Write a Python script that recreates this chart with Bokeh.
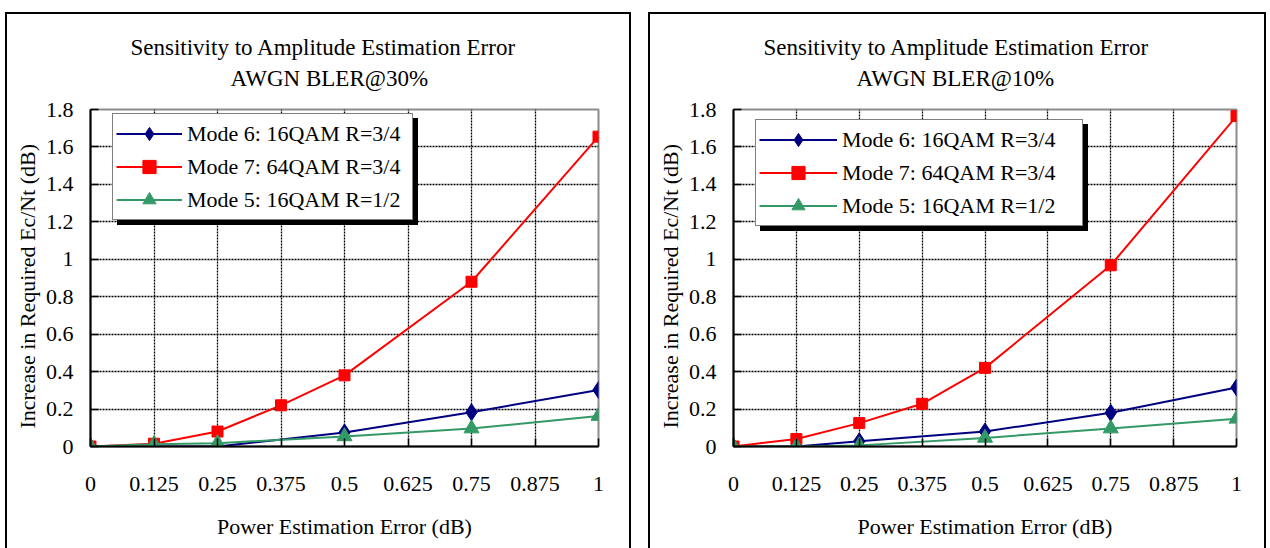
from bokeh.plotting import figure
from bokeh.layouts import row
from bokeh.models import FixedTicker, Legend, LegendItem, Title, Range1d
from bokeh.embed import file_html
from bokeh.resources import INLINE

# ---- data ----
x_ticks = [0, 0.125, 0.25, 0.375, 0.5, 0.625, 0.75, 0.875, 1]
x_tick_labels = ["0", "0.125", "0.25", "0.375", "0.5", "0.625", "0.75", "0.875", "1"]
y_ticks = [0, 0.2, 0.4, 0.6, 0.8, 1, 1.2, 1.4, 1.6, 1.8]
y_tick_labels = ["0", "0.2", "0.4", "0.6", "0.8", "1", "1.2", "1.4", "1.6", "1.8"]

x_err_sparse = [0, 0.125, 0.25, 0.5, 0.75, 1]
x_err_full = [0, 0.125, 0.25, 0.375, 0.5, 0.75, 1]

series_names = ["Mode 6: 16QAM R=3/4", "Mode 7: 64QAM R=3/4", "Mode 5: 16QAM R=1/2"]

# BLER@30%
b30_mode6 = [0.0, 0.0, 0.0, 0.075, 0.183, 0.302]
b30_mode7 = [0.0, 0.015, 0.08, 0.22, 0.38, 0.88, 1.655]
b30_mode5 = [0.0, 0.012, 0.018, 0.054, 0.096, 0.163]

# BLER@10%
b10_mode6 = [0.0, 0.0, 0.028, 0.08, 0.18, 0.315]
b10_mode7 = [0.0, 0.04, 0.125, 0.228, 0.42, 0.968, 1.765]
b10_mode5 = [0.0, 0.0, 0.006, 0.046, 0.096, 0.148]

titles = [["Sensitivity to Amplitude Estimation Error", "AWGN BLER@30%"],
          ["Sensitivity to Amplitude Estimation Error", "AWGN BLER@10%"]]

FONT = "Liberation Serif"
FS = "22px"
TFS = "23px"
NAVY = "#000080"
RED = "#FF0000"
GREEN = "#339966"


def make_panel(title_lines, m6, m7, m5, width, height, borders, margin,
               title_offsets, legend_loc, legend_glyph_w, legend_label_w):
    bl, br, bt, bb = borders
    p = figure(width=width, height=height, output_backend="svg", toolbar_location=None,
               x_range=Range1d(0, 1), y_range=Range1d(0, 1.8),
               min_border_left=bl, min_border_right=br, min_border_top=bt, min_border_bottom=bb)
    p.margin = margin
    p.border_fill_color = None
    p.background_fill_color = "white"
    p.styles = {"box-shadow": "inset 2px 2px 0 0 black, inset -2px 0 0 0 black"}
    p.outline_line_color = "#8c8c8c"
    p.outline_line_width = 2

    for ax in (p.xaxis[0], p.yaxis[0]):
        ax.axis_line_color = "black"
        ax.axis_line_width = 2
        ax.major_tick_in = 8
        ax.major_tick_out = 0
        ax.major_tick_line_color = "black"
        ax.major_tick_line_width = 1.5
        ax.minor_tick_line_color = None
        ax.major_label_text_font = FONT
        ax.major_label_text_font_size = FS
        ax.major_label_text_color = "black"
        ax.axis_label_text_font = FONT
        ax.axis_label_text_font_size = FS
        ax.axis_label_text_font_style = "normal"
        ax.axis_label_text_color = "black"

    p.xaxis[0].ticker = FixedTicker(ticks=x_ticks)
    p.xaxis[0].major_label_overrides = dict(zip(x_ticks, x_tick_labels))
    p.yaxis[0].ticker = FixedTicker(ticks=y_ticks)
    p.yaxis[0].major_label_overrides = dict(zip(y_ticks, y_tick_labels))
    p.xaxis[0].axis_label = "Power Estimation Error (dB)"
    p.yaxis[0].axis_label = "Increase in Required Ec/Nt (dB)\u00a0\u00a0\u00a0"
    p.xaxis[0].major_label_standoff = 30
    p.xaxis[0].axis_label_standoff = 20
    p.yaxis[0].major_label_standoff = 17
    p.yaxis[0].axis_label_standoff = 3

    p.xgrid[0].ticker = FixedTicker(ticks=x_ticks[1:-1])
    p.ygrid[0].ticker = FixedTicker(ticks=y_ticks[1:-1])
    for g in (p.xgrid[0], p.ygrid[0]):
        g.grid_line_color = "black"
        g.grid_line_dash = "2 1"
        g.grid_line_width = 1.3

    r6l = p.line(x_err_sparse, m6, line_color=NAVY, line_width=2)
    r6m = p.scatter(x_err_sparse, m6, marker="diamond", size=17, fill_color=NAVY, line_color=NAVY)
    r7l = p.line(x_err_full, m7, line_color=RED, line_width=2)
    r7m = p.scatter(x_err_full, m7, marker="square", size=11, fill_color=RED, line_color=RED)
    r5l = p.line(x_err_sparse, m5, line_color=GREEN, line_width=2)
    r5m = p.scatter(x_err_sparse, m5, marker="triangle", size=15, fill_color=GREEN, line_color=GREEN)

    groups = [[r6l, r6m], [r7l, r7m], [r5l, r5m]]

    def mk_legend(loc, shadow):
        if shadow:
            items = [LegendItem(label=" ", renderers=g) for g in groups]
        else:
            items = [LegendItem(label=n, renderers=g) for n, g in zip(series_names, groups)]
        lg = Legend(items=items, location=loc)
        lg.label_text_font = FONT
        lg.label_text_font_size = FS
        lg.label_text_color = "black"
        lg.padding = 3
        lg.spacing = 0
        lg.margin = 0
        lg.glyph_width = legend_glyph_w
        lg.glyph_height = 33
        lg.label_height = 33
        lg.label_width = legend_label_w
        lg.label_standoff = 5
        lg.border_line_color = "black"
        lg.border_line_width = 1
        lg.background_fill_color = "black" if shadow else "white"
        lg.background_fill_alpha = 1.0
        return lg

    lx, ly = legend_loc
    p.add_layout(mk_legend((lx + 5, ly - 5), True), "center")
    p.add_layout(mk_legend((lx, ly), False), "center")

    off1, off2 = title_offsets
    spacer = Title(text=" ", align="left", standoff=11, text_font_size="1px")
    t2 = Title(text=title_lines[1], align="left", offset=off2, standoff=9,
               text_font=FONT, text_font_size=TFS, text_font_style="normal", text_color="black")
    t1 = Title(text=title_lines[0], align="left", offset=off1, standoff=0,
               text_font=FONT, text_font_size=TFS, text_font_style="normal", text_color="black")
    p.add_layout(spacer, "above")
    p.add_layout(t2, "above")
    p.add_layout(t1, "above")
    return p


p1 = make_panel(titles[0], b30_mode6, b30_mode7, b30_mode5, 626, 536, (85, 33, 97, 102),
                (12, 0, 0, 5), (40, 140), (22, 226), 66, 222)
p2 = make_panel(titles[1], b10_mode6, b10_mode7, b10_mode5, 618, 536, (85, 30, 94, 100),
                (12, 0, 0, 17), (30, 123), (22, 220), 78, 237)

layout = row(p1, p2)
open("out.html", "w").write(file_html(layout, INLINE))
